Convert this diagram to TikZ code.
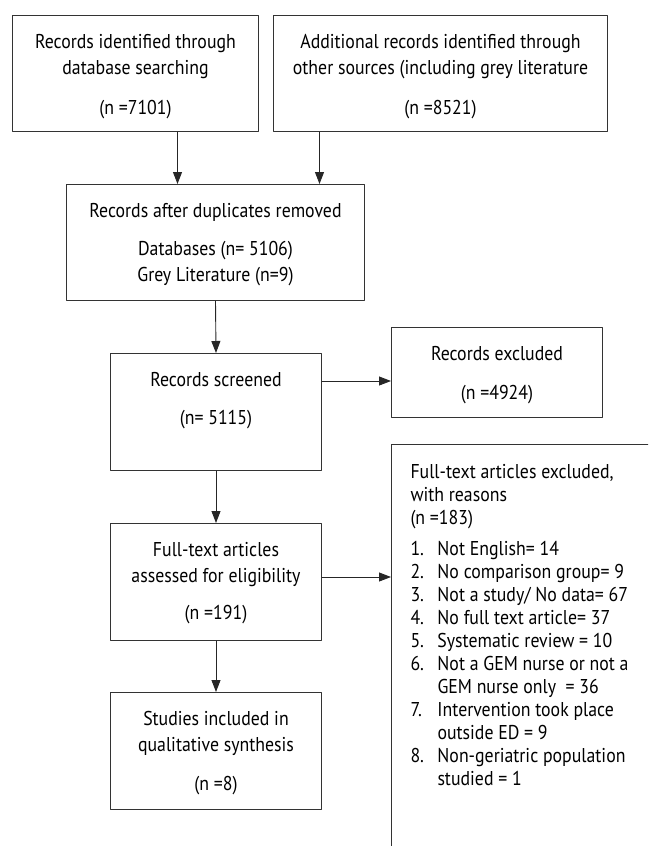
\documentclass[tikz,border=0pt]{standalone}
\usepackage{fontspec}
\setmainfont{PT Sans}[FakeStretch=0.89]
\usepackage{tikz}
\usetikzlibrary{arrows.meta}

\tikzset{
  flowbox/.style={draw=black!80, line width=1pt, inner sep=0pt, anchor=north west,
    font=\fontsize{20}{26}\selectfont},
  flowline/.style={->, line width=0.9pt, draw=black!85},
}
\newcommand{\boxtext}[3]{\begin{minipage}[t][#2][t]{#1}\centering\rule{0pt}{33pt}#3\end{minipage}}
\newcommand{\reason}[2]{\makebox[27pt][l]{#1}#2}

\begin{document}
\begin{tikzpicture}[line cap=round,line join=round,>={Triangle[length=12pt,width=9pt]},x=1pt,y=-1pt]
\useasboundingbox (0,0) rectangle (648,846);
\clip (0,0) rectangle (648,846);

\node[flowbox] (ident) at (12,15) {\boxtext{246pt}{116pt}{Records identified through\\database searching\\[14pt](n =7101)}};
\node[flowbox] (other) at (273,15) {\boxtext{334pt}{116pt}{Additional records identified through\\other sources (including grey literature\\[14pt](n =8521)}};
\node[flowbox] (dup) at (66,184) {\boxtext{298pt}{116pt}{Records after duplicates removed\\[12pt]Databases (n= 5106)\\Grey Literature (n=9)}};
\node[flowbox] (screen) at (110,353) {\boxtext{211pt}{117pt}{Records screened\\[12pt](n= 5115)}};
\node[flowbox] (excl) at (391,327) {\boxtext{211pt}{90pt}{Records excluded\\[13pt](n =4924)}};
\node[flowbox] (full) at (110,523) {\boxtext{211pt}{117pt}{Full-text articles\\assessed for eligibility\\[11pt](n =191)}};
\node[flowbox] (incl) at (110,692) {\boxtext{211pt}{117pt}{Studies included in\\qualitative synthesis\\[13pt](n =8)}};
\node[flowbox] (reasons) at (391,444) {\begin{minipage}[t][420pt][t]{280pt}\fontsize{20}{23}\selectfont
  \leftskip=19pt\parindent=0pt
  \rule{0pt}{34pt}Full-text articles excluded,\\with reasons\\(n =183)\\[8pt]
  \reason{1.}{Not English= 14}\\
  \reason{2.}{No comparison group= 9}\\
  \reason{3.}{Not a study/ No data= 67}\\
  \reason{4.}{No full text article= 37}\\
  \reason{5.}{Systematic review = 10}\\
  \reason{6.}{Not a GEM nurse or not a}\\
  \reason{}{GEM nurse only\ \ = 36}\\
  \reason{7.}{Intervention took place}\\
  \reason{}{outside ED = 9}\\
  \reason{8.}{Non-geriatric population}\\
  \reason{}{studied = 1}
\end{minipage}};

\draw[flowline] ([xshift=42pt]ident.south) -- ([xshift=42pt]ident.south |- dup.north);
\draw[flowline] ([xshift=-121pt]other.south) -- ([xshift=-121pt]other.south |- dup.north);
\draw[flowline] (dup.south) -- (screen.north);
\draw[flowline] ([yshift=31pt]screen.east) -- ([yshift=31pt]screen.east -| excl.west);
\draw[flowline] (screen.south) -- (full.north);
\draw[flowline] ([yshift=5pt]full.east) -- ([yshift=5pt]full.east -| reasons.west);
\draw[flowline] (full.south) -- (incl.north);
\end{tikzpicture}
\end{document}
